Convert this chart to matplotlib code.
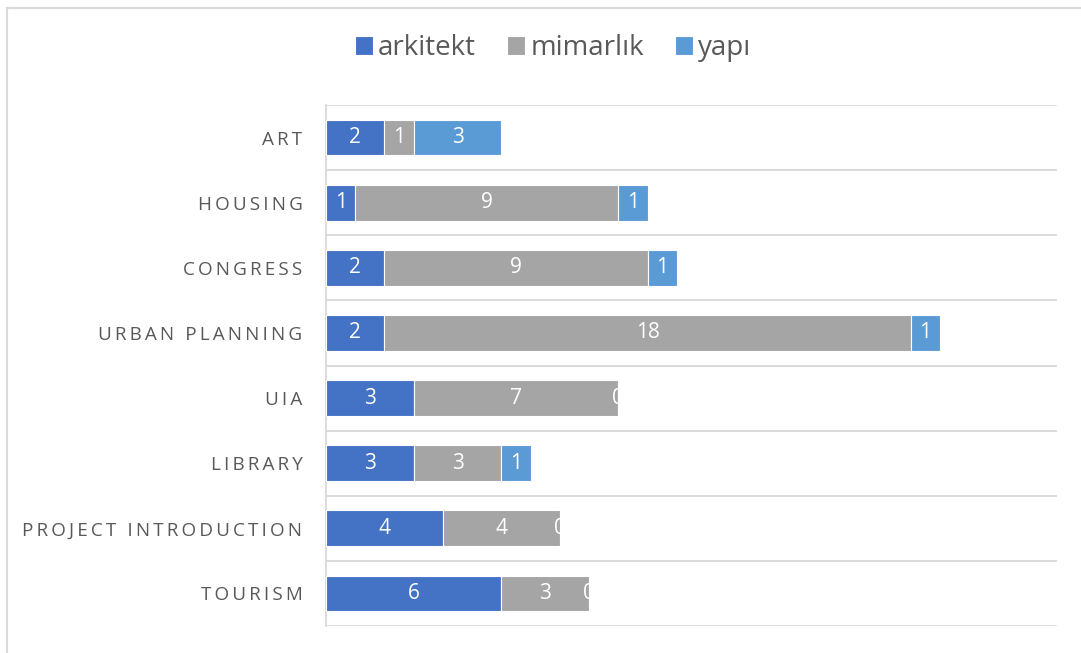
import matplotlib.pyplot as plt
from matplotlib.lines import Line2D
from matplotlib.patches import Rectangle

categories = ["ART", "HOUSING", "CONGRESS", "URBAN PLANNING", "UIA", "LIBRARY",
              "PROJECT INTRODUCTION", "TOURISM"]
arkitekt = [2, 1, 2, 2, 3, 3, 4, 6]
mimarlik = [1, 9, 9, 18, 7, 3, 4, 3]
yapi = [3, 1, 1, 1, 0, 1, 0, 0]
series_names = ["arkitekt", "mimarlık", "yapı"]
colors = ["#4472C4", "#A5A5A5", "#5B9BD5"]

plt.rcParams["font.family"] = ["Open Sans", "DejaVu Sans"]


def spaced(label):
    # fake letter spacing with thin spaces
    return "\u2009".join(label).replace("\u2009 \u2009", "\u2009 \u2009")


fig = plt.figure(figsize=(10.81, 6.53), dpi=100)
W, H = 1081, 653
ax = fig.add_axes([326 / W, 1 - 626 / H, (1057 - 326) / W, (626 - 105) / H])

n = len(categories)
ys = list(range(n))
bar_h = 0.55
left = [0] * n
for vals, name, col in zip([arkitekt, mimarlik, yapi], series_names, colors):
    ax.barh(ys, vals, left=left, height=bar_h, color=col, edgecolor="white",
            linewidth=0.8, label=name, zorder=3)
    for y, v, l in zip(ys, vals, left):
        t = ax.text(l + v / 2, y, str(v), ha="center", va="center",
                    color="white", fontsize=15, zorder=4)
        if v == 0:
            clip = Rectangle((0, y - bar_h / 2), l, bar_h, transform=ax.transData)
            t.set_clip_path(clip)
    left = [a + b for a, b in zip(left, vals)]

ax.set_xlim(0, 25)
ax.set_ylim(n - 0.5, -0.5)
ax.set_yticks(ys)
ax.set_yticklabels([spaced(c) for c in categories], fontsize=13.6, color="#595959")
ax.tick_params(axis="y", length=0, pad=17)
ax.set_xticks([])
for b in [i - 0.5 for i in range(n + 1)]:
    ax.axhline(b, color="#D9D9D9", linewidth=1.3, zorder=1)
for s in ["top", "right", "bottom"]:
    ax.spines[s].set_visible(False)
ax.spines["left"].set_color("#D9D9D9")
ax.spines["left"].set_linewidth(1.3)

handles, labels = ax.get_legend_handles_labels()
fig.legend(handles, labels, loc="center", bbox_to_anchor=(553 / W, 1 - 48 / H),
           ncol=3, frameon=False, fontsize=20, labelcolor="#595959",
           handlelength=0.65, handleheight=0.65, handletextpad=0.2, columnspacing=1.1)

# outer chart frame
fig.add_artist(Line2D([7 / W, 7 / W], [0, 1 - 8 / H], color="#D9D9D9", linewidth=1.5))
fig.add_artist(Line2D([7 / W, 1], [1 - 8 / H, 1 - 8 / H], color="#D9D9D9", linewidth=1.5))

fig.savefig("out.png", dpi=100)
